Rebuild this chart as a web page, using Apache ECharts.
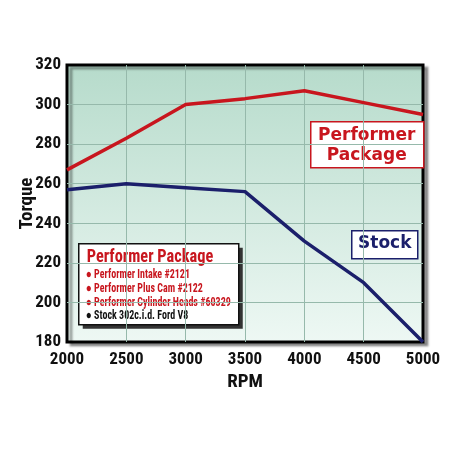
<!DOCTYPE html>
<html>
<head>
<meta charset="utf-8">
<script src="https://cdn.jsdelivr.net/npm/echarts@6/dist/echarts.min.js"></script>
<style>
  html, body { margin: 0; padding: 0; background: #fff; }
  #chart { width: 450px; height: 450px; }
</style>
</head>
<body>
<div id="chart"></div>
<script>
const rpm = ['2000', '2500', '3000', '3500', '4000', '4500', '5000'];
const performer = [267, 283, 300, 303, 307, 301, 295];
const stock = [257, 260, 258, 256, 231, 210, 180];
const legendLines = [
  'Performer Intake #2121',
  'Performer Plus Cam #2122',
  'Performer Cylinder Heads #60329',
  'Stock 302c.i.d. Ford V8'
];

const RED = '#c8161e';
const NAVY = '#1b1f6b';
const FONT = '"Roboto Condensed", sans-serif';

const chart = echarts.init(document.getElementById('chart'));

const option = {
  backgroundColor: '#ffffff',
  animation: false,
  grid: {
    left: 67, right: 27, top: 65, bottom: 108,
    outerBoundsMode: 'none',
    show: true,
    backgroundColor: new echarts.graphic.LinearGradient(0, 0, 0, 1, [
      { offset: 0, color: '#b6dbcb' },
      { offset: 1, color: '#eef8f4' }
    ]),
    borderColor: '#000',
    borderWidth: 3,
    shadowColor: 'rgba(0,0,0,0.35)',
    shadowOffsetX: 4,
    shadowOffsetY: 3,
    shadowBlur: 2
  },
  xAxis: {
    type: 'category',
    data: rpm,
    boundaryGap: false,
    name: 'RPM',
    nameLocation: 'middle',
    nameGap: 29,
    nameTextStyle: { fontFamily: FONT, fontWeight: 'bold', fontSize: 19, color: '#111' },
    axisLine: { show: false },
    axisTick: { show: false },
    axisLabel: { fontFamily: FONT, fontWeight: 'bold', fontSize: 17, color: '#111', margin: 9 },
    splitLine: { show: true, showMinLine: false, showMaxLine: false,
                 lineStyle: { color: '#96b9ab', width: 1 } }
  },
  yAxis: {
    type: 'value',
    min: 180, max: 320, interval: 20,
    name: 'Torque',
    nameLocation: 'middle',
    nameGap: 30,
    nameMoveOverlap: false,
    nameRotate: 90,
    nameTextStyle: { fontFamily: FONT, fontWeight: 'bold', fontSize: 19, color: '#111' },
    axisLine: { show: false },
    axisTick: { show: false },
    axisLabel: { fontFamily: FONT, fontWeight: 'bold', fontSize: 17, color: '#111', margin: 6 },
    splitLine: { show: true, showMinLine: false, showMaxLine: false,
                 lineStyle: { color: '#96b9ab', width: 1 } }
  },
  series: [
    {
      name: 'Performer Package', type: 'line', data: performer,
      showSymbol: false, lineStyle: { color: RED, width: 3.5 }, z: 3
    },
    {
      name: 'Stock', type: 'line', data: stock,
      showSymbol: false, lineStyle: { color: NAVY, width: 3.5 }, z: 3
    }
  ],
  graphic: [
    {
      type: 'group', left: 310, top: 121, z: 10,
      children: [
        { type: 'rect', shape: { x: 0, y: 0, width: 113, height: 46 },
          style: { fill: '#fff', stroke: RED, lineWidth: 1.5 } },
        { type: 'text', x: 56, y: 4,
          style: { text: 'Performer\nPackage', align: 'center', fill: RED,
                   font: 'bold 17px "DejaVu Sans", sans-serif', lineHeight: 20 } }
      ]
    },
    {
      type: 'group', left: 351, top: 230, z: 10,
      children: [
        { type: 'rect', shape: { x: 0, y: 0, width: 66, height: 28 },
          style: { fill: '#fff', stroke: NAVY, lineWidth: 1.5 } },
        { type: 'text', x: 33, y: 4,
          style: { text: 'Stock', align: 'center', fill: NAVY,
                   font: 'bold 17px "DejaVu Sans", sans-serif' } }
      ]
    },
    {
      type: 'group', left: 78, top: 243, z: 10,
      children: [
        { type: 'rect', shape: { x: 4, y: 4, width: 160, height: 81 },
          style: { fill: '#333' } },
        { type: 'rect', shape: { x: 0, y: 0, width: 160, height: 81 },
          style: { fill: '#fff', stroke: '#111', lineWidth: 1.5 } },
        { type: 'text', x: 8, y: 4, scaleX: 0.86,
          style: { text: 'Performer Package', fill: RED,
                   font: 'bold 19px ' + FONT } },
        ...legendLines.map((t, i) => ({
          type: 'text', x: 7, y: 25 + i * 13.7, scaleX: 0.8,
          style: { text: '\u25CF ' + t, fill: i < 3 ? RED : '#111',
                   font: 'bold 12.5px ' + FONT }
        }))
      ]
    }
  ]
};

chart.setOption(option);
</script>
</body>
</html>
